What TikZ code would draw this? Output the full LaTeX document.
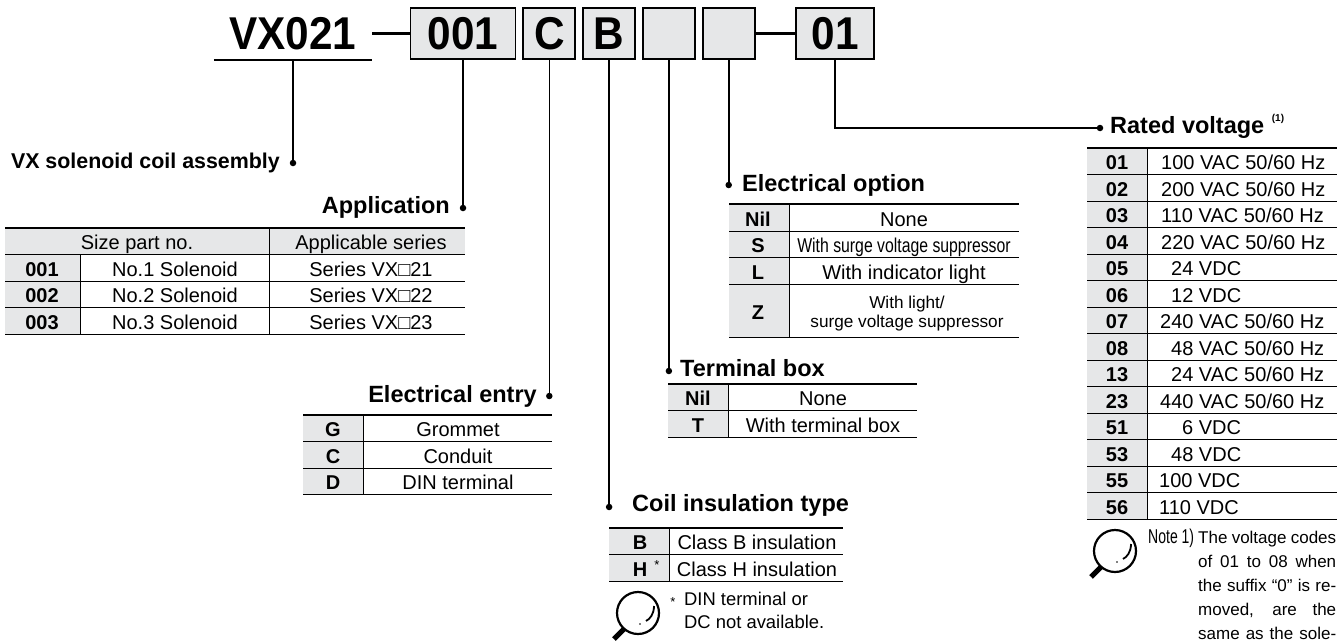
\documentclass[tikz,border=0pt]{standalone}
\usepackage{fontspec}
\usepackage{graphicx}
\setmainfont{Liberation Sans}
\newfontfamily\partfont[FakeStretch=0.92]{Liberation Sans Bold}
\usetikzlibrary{positioning}
\definecolor{cellgray}{HTML}{E6E7E8}
\newcommand{\px}[1]{\fontsize{#1}{#1}\selectfont}

\begin{document}
\begin{tikzpicture}[
  x=1pt, y=-1pt,
  codebox/.style={rectangle, draw=black, fill=cellgray, line width=1.8pt, minimum height=51pt, inner sep=0pt, font=\px{46}\partfont},
  leader/.style={draw=black, line width=1.6pt},
  link/.style={draw=black, line width=3pt},
  leaddot/.style={circle, fill=black, inner sep=0pt, minimum size=6.5pt},
  heading/.style={inner sep=0pt, font=\px{23.5}\bfseries},
  cellcode/.style={inner sep=0pt, anchor=base, font=\px{20}\bfseries},
  celltext/.style={inner sep=0pt, anchor=base, font=\px{20}},
  notetext/.style={inner sep=0pt, anchor=base west, font=\px{18.4}},
  toprule/.style={draw=black, line width=1.8pt},
  rowrule/.style={draw=black, line width=0.9pt},
  lens/.pic={
    \draw[line width=2.2pt] (0,0) circle (21pt);
    \draw[line width=1.8pt] (16,-7) .. controls (16,1) and (12,6) .. (8,8);
    \fill (2,11) circle (0.9pt);
    \draw[line width=5pt] (-14,16) -- (-24,26);
    \fill[white] (-25,27) circle (1.5pt);
  }
]
  \useasboundingbox (0,0) rectangle (1343,640);

  % part number row
  \node[inner sep=0pt, minimum width=158pt, minimum height=53pt, font=\px{46}\partfont] (vx) at (293,33.5) {VX021};
  \node[codebox, minimum width=105pt] (b001) at (463,33.5) {001};
  \node[codebox, minimum width=52pt, right=6pt of b001] (bC) {C};
  \node[codebox, minimum width=52pt, right=6pt of bC] (bB) {B};
  \node[codebox, minimum width=52pt, right=6pt of bB] (bS) {};
  \node[codebox, minimum width=52pt, right=6pt of bS] (bO) {};
  \node[codebox, minimum width=78pt] (b01) at (835,33.5) {01};
  \draw[toprule] (vx.south west) -- (vx.south east);
  \draw[link] (vx.east) -- (b001.west);
  \draw[link] (bO.east) -- (b01.west);

  % leaders
  \node[leaddot] (dvx) at (vx.south |- 0,163) {};
  \node[leaddot] (d001) at (b001.south |- 0,208) {};
  \node[leaddot] (dC) at (bC.south |- 0,396) {};
  \node[leaddot] (dB) at (bB.south |- 0,507) {};
  \node[leaddot] (dS) at (bS.south |- 0,371) {};
  \node[leaddot] (dO) at (bO.south |- 0,185) {};
  \node[leaddot] (d01) at (1100,128) {};
  \draw[leader] (vx.south) -- (dvx);
  \draw[leader] (b001.south) -- (d001);
  \draw[leader] (bC.south) -- (dC);
  \draw[leader] (bB.south) -- (dB);
  \draw[leader] (bS.south) -- (dS);
  \draw[leader] (bO.south) -- (dO);
  \draw[leader] (b01.south) |- (d01);

  % headings
  \node[heading, anchor=base east, font=\px{21.4}\bfseries] (hvx) at (280,168) {VX solenoid coil assembly};
  \node[heading, anchor=base east] (happ) at (450,213) {Application};
  \node[heading, anchor=base east] (hent) at (537,402) {Electrical entry};
  \node[heading, anchor=base west] (hcoil) at (632,511) {Coil insulation type};
  \node[heading, anchor=base west] (hopt) at (742,191) {Electrical option};
  \node[heading, anchor=base west] (hbox) at (680,376) {Terminal box};
  \node[heading, anchor=base west] (hvolt) at (1110,133) {Rated voltage};
  \node[inner sep=0pt, font=\px{10}\bfseries] (hnote) at (1278,119) {(1)};

  % application
  \fill[cellgray] (5,228) rectangle (465,255);
  \fill[cellgray] (5,255) rectangle (80,334);
  \draw[rowrule] (80,255) -- (80,334);
  \draw[rowrule] (269,228) -- (269,334);
  \draw[toprule] (5,228) -- (465,228);
  \draw[rowrule] (5,334) -- (465,334);
  \node[celltext] (apph1) at (137,249.5) {Size part no.};
  \node[celltext] (apph2) at (371,249.5) {Applicable series};
  \foreach \code/\name/\series [count=\k from 1] in {001/No.1 Solenoid/{Series VX□21}, 002/No.2 Solenoid/{Series VX□22}, 003/No.3 Solenoid/{Series VX□23}} {
    \draw[rowrule] (5,228+26.5*\k) -- (465,228+26.5*\k);
    \node[cellcode] (appc\k) at (42,249.5+26.5*\k) {\code};
    \node[celltext] (appn\k) at (175,249.5+26.5*\k) {\name};
    \node[celltext] (apps\k) at (371,249.5+26.5*\k) {\series};
  }

  % electrical entry
  \fill[cellgray] (303,415) rectangle (363,495);
  \draw[rowrule] (363,415) -- (363,495);
  \draw[toprule] (303,415) -- (552,415);
  \foreach \code/\name [count=\k from 1] in {G/Grommet, C/Conduit, D/DIN terminal} {
    \draw[rowrule] (303,415+26.5*\k) -- (552,415+26.5*\k);
    \node[cellcode] (entc\k) at (333,415+26.5*\k-5) {\code};
    \node[celltext] (entn\k) at (458,415+26.5*\k-5) {\name};
  }

  % coil insulation
  \fill[cellgray] (609,528) rectangle (669,581);
  \draw[rowrule] (669,528) -- (669,581);
  \draw[toprule] (609,528) -- (843,528);
  \foreach \code/\name [count=\k from 1] in {B/Class B insulation, H/Class H insulation} {
    \draw[rowrule] (609,528+26.5*\k) -- (843,528+26.5*\k);
    \node[cellcode] (coilc\k) at (640,528+26.5*\k-5) {\code};
    \node[celltext] (coiln\k) at (757,528+26.5*\k-5) {\name};
  }
  \node[inner sep=0pt, font=\px{13}] (coilstar) at (657,565) {*};
  \path (638,613) pic {lens};
  \node[inner sep=0pt, font=\px{13}] (notestar) at (673,602) {*};
  \node[notetext] (coilnote1) at (684,605) {DIN terminal or};
  \node[notetext] (coilnote2) at (684,628) {DC not available.};

  % electrical option
  \fill[cellgray] (729,204) rectangle (789,337);
  \draw[rowrule] (789,204) -- (789,337);
  \draw[toprule] (729,204) -- (1019,204);
  \foreach \y in {231,257.5,284,337} \draw[rowrule] (729,\y) -- (1019,\y);
  \node[cellcode] (optc1) at (758,226) {Nil};
  \node[cellcode] (optc2) at (758,252.5) {S};
  \node[cellcode] (optc3) at (758,279) {L};
  \node[cellcode] (optc4) at (758,319) {Z};
  \node[celltext] (optn1) at (904,226) {None};
  \node[celltext] (optn2) at (904,252.5) {\scalebox{0.79}[1]{With surge voltage suppressor}};
  \node[celltext] (optn3) at (904,279) {With indicator light};
  \node[celltext, font=\px{17.2}] (optn4a) at (907,308) {With light/};
  \node[celltext, font=\px{17.2}] (optn4b) at (907,327) {surge voltage suppressor};

  % terminal box
  \fill[cellgray] (668,384) rectangle (728,437.5);
  \draw[rowrule] (728,384) -- (728,437.5);
  \draw[toprule] (668,384) -- (917,384);
  \foreach \code/\name [count=\k from 1] in {Nil/None, T/With terminal box} {
    \draw[rowrule] (668,384+26.5*\k) -- (917,384+26.5*\k);
    \node[cellcode] (boxc\k) at (698,384+26.5*\k-5) {\code};
    \node[celltext] (boxn\k) at (823,384+26.5*\k-5) {\name};
  }

  % rated voltage
  \fill[cellgray] (1087,148) rectangle (1147,519);
  \draw[rowrule] (1147,148) -- (1147,519);
  \draw[toprule] (1087,148) -- (1337,148);
  \foreach \code/\lx/\name [count=\k from 1] in {01/1161/{100 VAC 50/60 Hz}, 02/1161/{200 VAC 50/60 Hz}, 03/1161/{110 VAC 50/60 Hz}, 04/1161/{220 VAC 50/60 Hz}, 05/1171/{24 VDC}, 06/1171/{12 VDC}, 07/1160/{240 VAC 50/60 Hz}, 08/1171/{48 VAC 50/60 Hz}, 13/1171/{24 VAC 50/60 Hz}, 23/1160/{440 VAC 50/60 Hz}, 51/1182/{6 VDC}, 53/1171/{48 VDC}, 55/1159/{100 VDC}, 56/1159/{110 VDC}} {
    \draw[rowrule] (1087,148+26.5*\k) -- (1337,148+26.5*\k);
    \node[cellcode] (voltc\k) at (1117,148+26.5*\k-5) {\code};
    \node[celltext, anchor=base west] (voltn\k) at (\lx,148+26.5*\k-5) {\name};
  }
  \path (1115,551) pic {lens};
  \node[celltext, anchor=base west] (notehead) at (1148,543) {\scalebox{0.7}[1]{Note 1)}};
  \foreach \line [count=\k from 0] in {The voltage codes, of 01 to 08 when, the suffix “0” is re-, {moved, are the}, same as the sole-} {
    \node[notetext, font=\px{17}] (notel\k) at (1198,543+24*\k) {\makebox[138pt][s]{\line}};
  }
\end{tikzpicture}
\end{document}
